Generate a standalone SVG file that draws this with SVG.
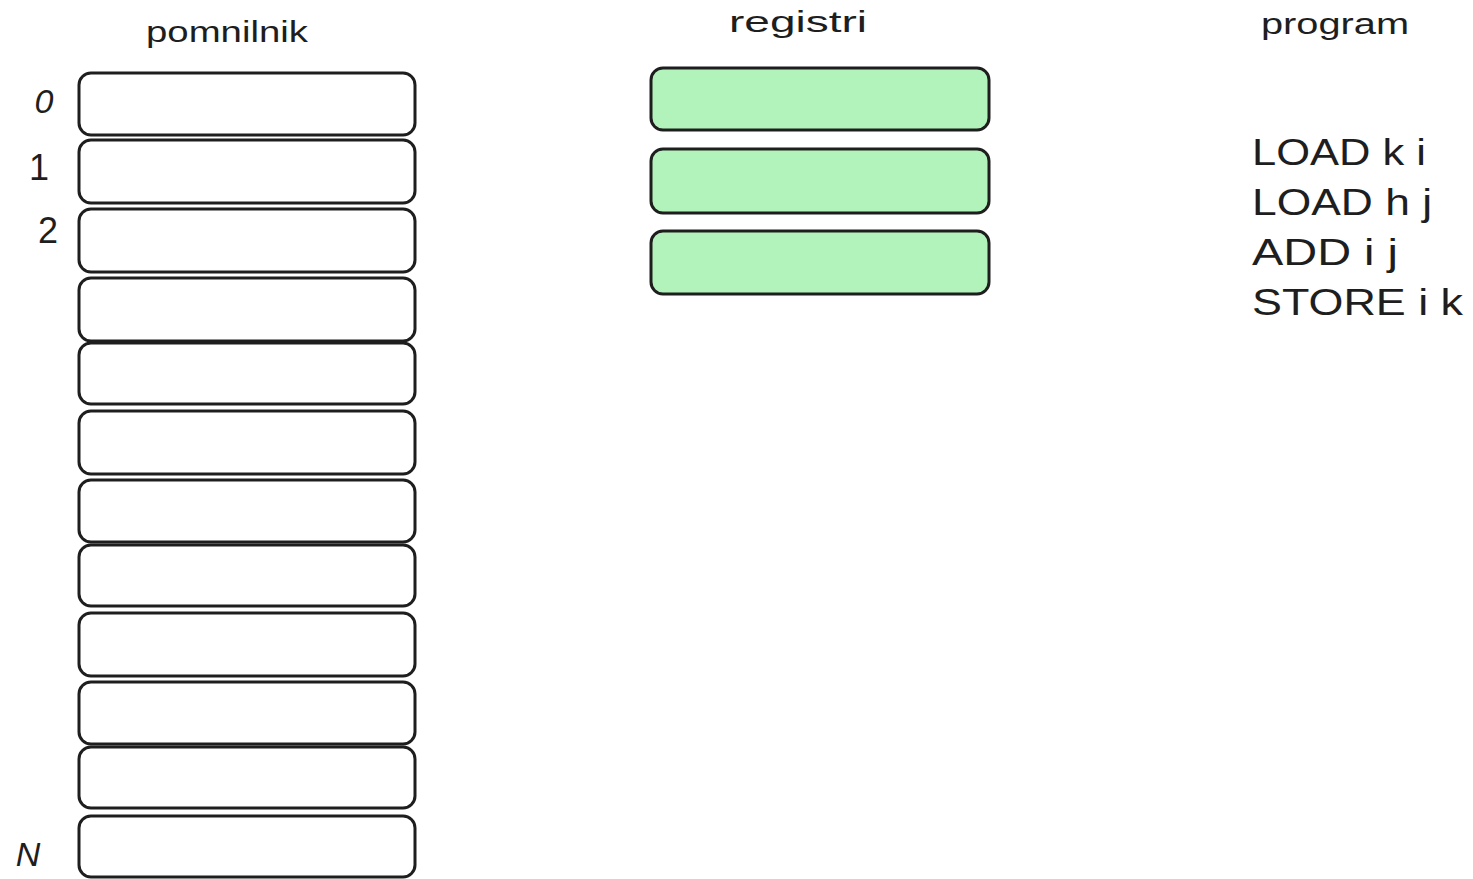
<svg xmlns="http://www.w3.org/2000/svg" width="1473" height="879" viewBox="0 0 1473 879">
<style>
.cell{fill:#ffffff;stroke:#1e1e1e;stroke-width:3}
.reg{fill:#b2f2bb;stroke:#1e1e1e;stroke-width:3}
.t{font-family:"Liberation Sans","Noto Sans",sans-serif;fill:#1e1e1e}
.h{font-size:30px}
.i{font-size:36px}
.p{font-size:36px}
.n{font-size:34px;font-style:italic}
</style>
<rect width="1473" height="879" fill="#ffffff"/>
<g id="titles">
<text class="t h" x="227" y="42" text-anchor="middle" textLength="162" lengthAdjust="spacingAndGlyphs">pomnilnik</text>
<text class="t h" x="798" y="32" text-anchor="middle" textLength="138" lengthAdjust="spacingAndGlyphs">registri</text>
<text class="t h" x="1335" y="34" text-anchor="middle" textLength="148" lengthAdjust="spacingAndGlyphs">program</text>
</g>
<g id="memory">
<g id="m0"><rect class="cell" x="79" y="73" width="336" height="62" rx="12"/></g>
<g id="m1"><rect class="cell" x="79" y="140" width="336" height="63" rx="12"/></g>
<g id="m2"><rect class="cell" x="79" y="209" width="336" height="63" rx="12"/></g>
<g id="m3"><rect class="cell" x="79" y="278" width="336" height="63" rx="12"/></g>
<g id="m4"><rect class="cell" x="79" y="343" width="336" height="61" rx="12"/></g>
<g id="m5"><rect class="cell" x="79" y="411" width="336" height="63" rx="12"/></g>
<g id="m6"><rect class="cell" x="79" y="480" width="336" height="62" rx="12"/></g>
<g id="m7"><rect class="cell" x="79" y="545" width="336" height="61" rx="12"/></g>
<g id="m8"><rect class="cell" x="79" y="613" width="336" height="63" rx="12"/></g>
<g id="m9"><rect class="cell" x="79" y="682" width="336" height="62" rx="12"/></g>
<g id="m10"><rect class="cell" x="79" y="747" width="336" height="61" rx="12"/></g>
<g id="m11"><rect class="cell" x="79" y="816" width="336" height="61" rx="12"/></g>
</g>
<g id="indices">
<text class="t n" x="44" y="113" text-anchor="middle">0</text>
<text class="t i" x="39" y="180" text-anchor="middle">1</text>
<text class="t i" x="48" y="243" text-anchor="middle">2</text>
<text class="t n" x="28" y="866" text-anchor="middle">N</text>
</g>
<g id="registers">
<g id="r0"><rect class="reg" x="651" y="68" width="338" height="62" rx="12"/></g>
<g id="r1"><rect class="reg" x="651" y="149" width="338" height="64" rx="12"/></g>
<g id="r2"><rect class="reg" x="651" y="231" width="338" height="63" rx="12"/></g>
</g>
<g id="program">
<text class="t p" x="1252" y="165" textLength="174" lengthAdjust="spacingAndGlyphs">LOAD k i</text>
<text class="t p" x="1252" y="215" textLength="180" lengthAdjust="spacingAndGlyphs">LOAD h j</text>
<text class="t p" x="1252" y="265" textLength="146" lengthAdjust="spacingAndGlyphs">ADD i j</text>
<text class="t p" x="1252" y="315" textLength="211" lengthAdjust="spacingAndGlyphs">STORE i k</text>
</g>
<g id="connectors"></g>
</svg>
